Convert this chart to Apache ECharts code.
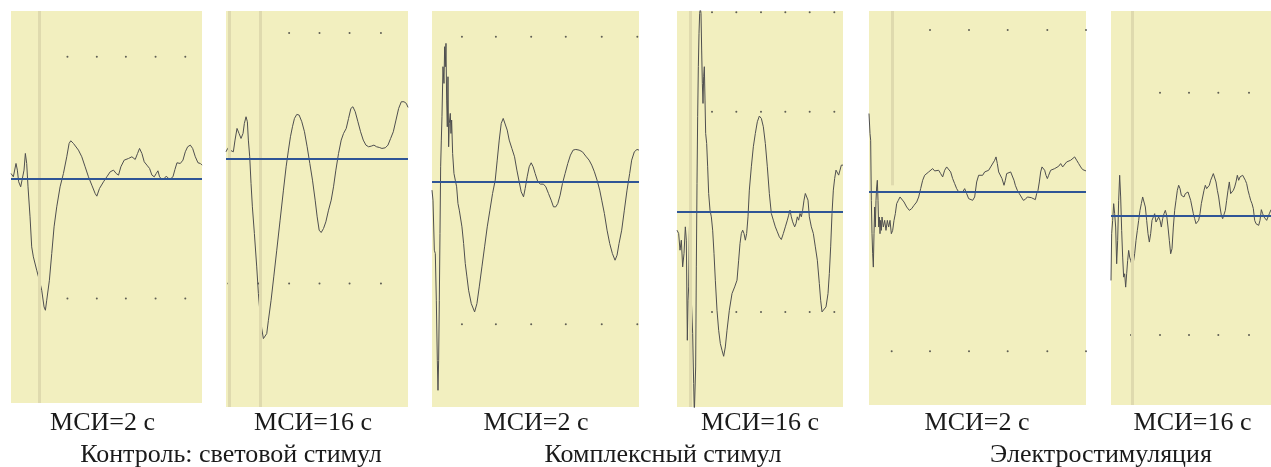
<!DOCTYPE html>
<html><head><meta charset="utf-8">
<script src="https://cdn.jsdelivr.net/npm/echarts@6/dist/echarts.min.js"></script>
<style>html,body{margin:0;padding:0;background:#fff}#c{width:1271px;height:467px}</style>
</head><body><div id="c"></div>
<script>
// Time (arbitrary units) and amplitude (arbitrary units, baseline = 0)
const trace1 = [[0,15],[7,5],[15,45],[19,25],[23,-10],[29,-25],[33,-5],[39,25],[43,75],[47,45],[51,-25],[57,-115],[62,-205],[67,-235],[77,-275],[85,-305],[92,-335],[99,-385],[103,-395],[107,-365],[115,-305],[122,-225],[129,-145],[137,-85],[147,-25],[157,15],[167,65],[174,105],[179,113],[187,105],[202,85],[212,65],[222,35],[232,5],[242,-20],[252,-45],[257,-53],[265,-30],[277,-10],[287,5],[297,20],[307,25],[315,15],[322,10],[329,35],[339,55],[352,60],[362,65],[372,57],[379,75],[385,90],[392,75],[399,50],[407,40],[415,30],[422,10],[429,5],[435,15],[440,23],[445,5],[452,-3],[459,0],[465,7],[472,0],[479,0],[485,5],[491,27],[497,47],[507,45],[515,55],[522,80],[529,95],[537,100],[544,90],[552,65],[560,47],[567,45],[572,40]];
const trace2 = [[0,22],[5,32],[12,27],[22,22],[27,57],[33,92],[39,77],[45,62],[51,77],[55,107],[60,127],[64,112],[67,57],[71,7],[75,-73],[79,-143],[85,-223],[92,-323],[97,-403],[102,-463],[107,-508],[112,-538],[117,-543],[122,-523],[127,-483],[135,-423],[143,-353],[152,-273],[162,-183],[172,-93],[180,-23],[187,27],[193,67],[199,97],[205,122],[212,134],[219,132],[227,112],[235,82],[243,37],[251,-13],[259,-63],[267,-123],[273,-173],[279,-213],[285,-220],[292,-208],[299,-188],[307,-153],[315,-123],[322,-83],[329,-33],[337,17],[345,57],[352,77],[360,92],[367,122],[374,152],[380,157],[387,142],[395,112],[403,82],[411,57],[419,42],[427,37],[435,39],[443,42],[451,37],[459,35],[467,32],[477,34],[485,42],[493,62],[501,82],[509,117],[517,152],[525,172],[533,172],[540,167],[545,155]];
const trace3 = [[0,-25],[3,-55],[7,-205],[10,-215],[13,-355],[16,-535],[18,-625],[20,-535],[22,-355],[24,-155],[26,45],[28,125],[30,195],[33,345],[36,295],[38,405],[40,345],[42,415],[44,245],[46,165],[48,315],[50,105],[52,175],[55,205],[57,145],[59,185],[62,85],[66,25],[70,5],[74,-15],[78,-65],[82,-85],[86,-85],[90,-135],[95,-185],[100,-245],[105,-285],[110,-325],[118,-365],[128,-390],[135,-365],[142,-315],[150,-255],[158,-195],[166,-135],[174,-85],[182,-35],[190,5],[196,65],[202,125],[208,175],[214,190],[220,185],[226,155],[232,125],[240,100],[248,75],[255,35],[262,0],[268,-30],[275,-45],[280,-20],[286,15],[292,45],[298,57],[304,45],[310,25],[318,0],[326,-7],[335,-7],[342,-15],[350,-35],[358,-55],[365,-75],[372,-75],[378,-65],[385,-40],[392,-5],[400,25],[408,55],[416,80],[424,95],[432,97],[442,95],[452,90],[462,77],[472,65],[480,50],[488,30],[496,5],[504,-25],[510,-55],[518,-95],[526,-145],[534,-185],[542,-215],[550,-235],[556,-220],[562,-185],[570,-145],[578,-85],[586,-25],[594,25],[600,65],[608,90],[616,97],[622,95]];
const trace4 = [[0,-54],[5,-64],[9,-114],[13,-84],[17,-164],[21,-124],[25,-44],[28,-84],[31,-384],[33,-264],[35,-224],[37,-64],[39,26],[41,-14],[43,-264],[47,-364],[50,-514],[52,-604],[54,-604],[56,-464],[58,-164],[60,86],[62,286],[64,436],[66,536],[68,596],[70,611],[72,596],[74,486],[76,386],[78,326],[80,406],[82,436],[84,336],[86,236],[89,206],[92,136],[95,56],[99,6],[103,-14],[107,-54],[111,-124],[115,-204],[120,-294],[125,-354],[130,-394],[135,-414],[140,-432],[145,-404],[150,-354],[157,-294],[165,-244],[173,-224],[180,-204],[185,-144],[189,-94],[193,-64],[197,-54],[201,-64],[205,-84],[209,-64],[213,-14],[217,66],[223,136],[229,196],[235,236],[241,271],[247,288],[253,281],[259,256],[265,206],[271,136],[277,56],[283,-4],[289,-24],[295,-44],[301,-59],[307,-74],[313,-82],[319,-64],[325,-44],[331,-24],[335,-9],[339,6],[343,-14],[347,-29],[353,-44],[357,-34],[361,-14],[365,-24],[369,-4],[373,-14],[377,6],[381,36],[385,56],[389,58],[393,36],[397,-14],[403,-44],[409,-64],[415,-104],[421,-144],[427,-214],[431,-264],[435,-299],[441,-302],[447,-284],[453,-244],[457,-184],[461,-104],[465,-4],[469,66],[473,101],[477,126],[481,121],[485,111],[489,126],[493,141],[498,141]];
const trace5 = [[0,235],[3,175],[5,155],[7,-25],[9,-125],[11,-185],[13,-225],[15,-125],[17,-45],[19,-105],[21,-25],[23,15],[25,35],[27,-25],[29,-105],[31,-75],[33,-125],[35,-85],[37,-115],[39,-75],[43,-105],[47,-85],[51,-115],[55,-85],[59,-105],[63,-85],[67,-125],[71,-115],[75,-85],[79,-65],[83,-35],[88,-25],[93,-15],[99,-20],[105,-30],[113,-45],[121,-55],[128,-50],[135,-40],[143,-30],[149,-15],[155,10],[161,35],[167,50],[173,55],[179,60],[185,65],[191,70],[197,63],[203,60],[209,65],[215,55],[221,45],[227,65],[233,75],[239,75],[245,60],[251,40],[257,25],[263,10],[269,0],[275,5],[281,0],[287,10],[293,-5],[299,-20],[305,-25],[311,-25],[317,-15],[323,30],[329,50],[335,55],[341,50],[347,60],[353,55],[359,65],[365,75],[371,80],[377,95],[381,105],[385,85],[389,60],[393,55],[399,40],[405,20],[409,35],[413,55],[419,60],[425,60],[431,55],[435,35],[439,20],[445,5],[451,-5],[457,-15],[463,-25],[469,-22],[475,-15],[481,-13],[487,-17],[493,-15],[499,-23],[503,-5],[507,5],[511,30],[515,60],[519,75],[523,80],[527,65],[531,50],[535,40],[539,50],[545,65],[551,70],[557,70],[563,75],[569,77],[575,85],[581,75],[587,80],[593,90],[599,85],[605,95],[611,100],[617,105],[623,95],[629,85],[635,75],[641,67],[647,65],[651,63]];
const trace6 = [[0,-195],[2,-55],[5,-15],[8,35],[11,5],[14,-35],[17,-145],[20,-75],[23,45],[26,120],[29,55],[32,-45],[35,-125],[38,-185],[41,-175],[44,-215],[47,-175],[50,-135],[53,-105],[56,-125],[59,-135],[62,-145],[65,-150],[68,-135],[71,-115],[75,-75],[79,-45],[83,-15],[87,15],[91,35],[95,55],[99,50],[103,25],[107,-15],[111,-55],[115,-80],[119,-55],[123,-15],[127,-5],[131,5],[135,-20],[139,-25],[143,-5],[147,-15],[151,-35],[155,-10],[159,5],[163,15],[167,0],[171,-35],[175,-75],[179,-115],[183,-100],[187,-35],[191,15],[195,45],[199,75],[203,90],[207,80],[211,60],[215,55],[219,55],[223,65],[227,70],[231,70],[235,65],[239,45],[243,25],[247,5],[251,-10],[255,-25],[259,-30],[263,-15],[267,5],[271,35],[275,55],[279,75],[283,90],[287,80],[291,75],[295,90],[299,105],[303,115],[307,125],[311,120],[315,100],[319,75],[323,55],[327,25],[331,0],[335,-10],[339,-5],[343,15],[347,45],[351,75],[355,100],[359,65],[363,65],[367,75],[371,85],[375,100],[379,120],[383,105],[387,115],[391,110],[395,120],[399,115],[403,105],[407,95],[411,75],[415,60],[419,45],[423,35],[427,20],[431,-15],[435,-25],[439,-20],[443,-30],[447,-15],[451,17],[455,5],[459,-5],[463,0],[467,-15],[471,-20],[475,5],[480,17]];

const traces = [trace1, trace2, trace3, trace4, trace5, trace6];
const timeMax = [572, 545, 622, 498, 651, 480];
const ampMin = [-673, -743, -675, -584, -638, -568];
const ampMax = [502, 444, 512, 603, 542, 612];
// stimulus marker (gray vertical band) times; bandEnd = amplitude where band stops (null = full height)
const bandTimes = [[85], [9, 102], [], [40], [71], [64]];
const bandEnd = [null, null, null, null, 20, null];
// dotted grid levels and dot times per row
const dotLevels = [[365, -360], [378, -373], [435, -427], [599, 301, -299], [485, -477], [367, -358]];
const dotTimes = [
  [[169,257,344,433,522], [85,169,257,344,433,522]],
  [[189,280,370,464], [7,97,189,280,370,464]],
  [[90,192,298,402,510,617], [90,192,298,402,510,617]],
  [[105,178,252,325,398,472], [105,178,252,325,398,472], [105,178,252,325,398,472]],
  [[183,300,416,535,651], [68,183,300,416,535,651]],
  [[147,234,322,414], [60,147,234,322,414]]
];
const panelLabels = ['МСИ=2 с', 'МСИ=16 с', 'МСИ=2 с', 'МСИ=16 с', 'МСИ=2 с', 'МСИ=16 с'];
const groupLabels = ['Контроль: световой стимул', 'Комплексный стимул', 'Электростимуляция'];

// layout
const gridBoxes = [
  {left: 11, top: 11, width: 191, height: 392},
  {left: 226, top: 11, width: 182, height: 396},
  {left: 432, top: 11, width: 207, height: 396},
  {left: 677, top: 11, width: 166, height: 396},
  {left: 869, top: 11, width: 217, height: 394},
  {left: 1111, top: 11, width: 160, height: 394}
];
const labelX = [102.5, 313, 536, 760, 977, 1192.5];
const groupX = [231, 663, 1101];

const BG = '#F2EFBF';
const grids = [], xAxes = [], yAxes = [], series = [];
gridBoxes.forEach((g, i) => {
  grids.push(Object.assign({show: true, backgroundColor: BG, borderWidth: 0, containLabel: false}, g));
  xAxes.push({type: 'value', gridIndex: i, min: 0, max: timeMax[i], show: false});
  yAxes.push({type: 'value', gridIndex: i, min: ampMin[i], max: ampMax[i], show: false});
  // stimulus bands
  if (bandTimes[i].length) {
    series.push({
      type: 'line', xAxisIndex: i, yAxisIndex: i, data: [], z: 1, silent: true,
      markLine: {
        silent: true, symbol: 'none', label: {show: false}, animation: false,
        lineStyle: {color: '#DFDAAE', width: 3, type: 'solid'},
        data: bandTimes[i].map(t => bandEnd[i] === null ? {xAxis: t}
          : [{coord: [t, ampMax[i]]}, {coord: [t, bandEnd[i]]}])
      }
    });
  }
  // dotted grid
  const dots = [];
  dotLevels[i].forEach((lv, r) => dotTimes[i][r].forEach(t => dots.push([t, lv])));
  series.push({
    type: 'scatter', xAxisIndex: i, yAxisIndex: i, data: dots, symbolSize: 2, z: 2, silent: true,
    itemStyle: {color: '#3a3a3a'}
  });
  // trace
  series.push({
    type: 'line', xAxisIndex: i, yAxisIndex: i, data: traces[i], showSymbol: false, z: 3,
    clip: true, silent: true,
    lineStyle: {color: '#4f4f4f', width: 1}
  });
  // baseline
  series.push({
    type: 'line', xAxisIndex: i, yAxisIndex: i, data: [], z: 4, silent: true,
    markLine: {
      silent: true, symbol: 'none', label: {show: false}, animation: false,
      lineStyle: {color: '#2F5596', width: 2, type: 'solid'},
      data: [{yAxis: 0}]
    }
  });
});

const FONT = '26px "Liberation Serif", "Times New Roman", serif';
const graphic = [];
panelLabels.forEach((t, i) => graphic.push({
  type: 'text', x: labelX[i], y: 423,
  style: {text: t, font: FONT, fill: '#1a1a1a', align: 'center', verticalAlign: 'middle'}
}));
groupLabels.forEach((t, i) => graphic.push({
  type: 'text', x: groupX[i], y: 455.5,
  style: {text: t, font: FONT, fill: '#1a1a1a', align: 'center', verticalAlign: 'middle'}
}));

const chart = echarts.init(document.getElementById('c'), null, {renderer: 'canvas'});
chart.setOption({
  animation: false,
  backgroundColor: '#ffffff',
  grid: grids, xAxis: xAxes, yAxis: yAxes, series, graphic
});
</script></body></html>
